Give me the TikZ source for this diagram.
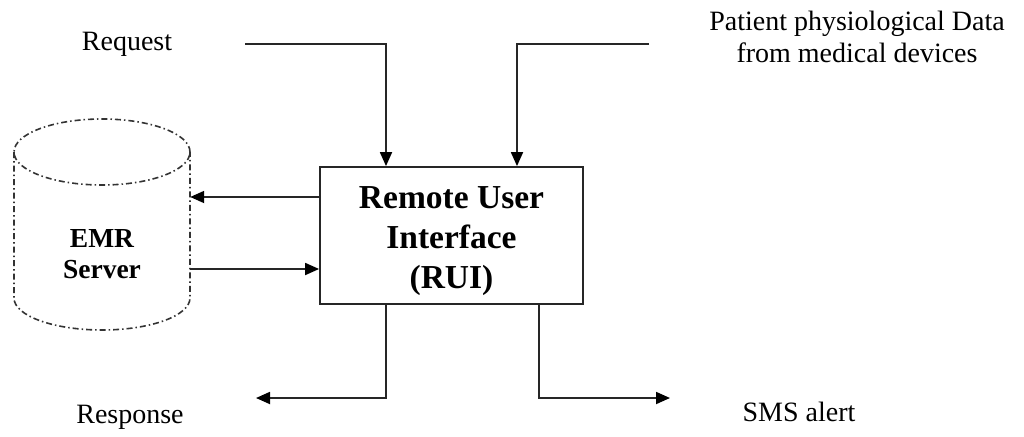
\documentclass[tikz,border=0pt]{standalone}
\usepackage{fontspec}
\setmainfont{Liberation Serif}
\usetikzlibrary{arrows.meta}
\begin{document}
\begin{tikzpicture}[x=1pt,y=-1pt,
  line/.style={line width=1.8pt,draw=black!85},
  arr/.style={line,-{Triangle[length=14pt,width=12pt,fill=black,color=black]}},
  label/.style={font=\fontsize{28}{32}\selectfont,inner sep=0pt,align=center},
  dbline/.style={line width=1.6pt,draw=black!80,dash pattern=on 6pt off 3pt on 1.5pt off 3pt}]
\useasboundingbox (0,0) rectangle (1024,436);

% central processing block
\node[line,rectangle,minimum width=263pt,minimum height=137pt,inner sep=0pt]
  (rui) at (451.5,235.5) {};
\node[inner sep=0pt,align=center,font=\bfseries\fontsize{33.5}{40}\selectfont]
  (ruitext) at (451.5,241) {Remote User\\Interface\\(RUI)};

% record store drawn as a dash-dot cylinder
\node[inner sep=0pt,minimum width=176pt,align=center,
      font=\bfseries\fontsize{27.5}{31}\selectfont] (emr) at (102,254) {EMR\\Server};
\draw[dbline] (102,152) ellipse [x radius=88pt,y radius=33pt];
\draw[dbline] (14,152) -- (14,298) arc [start angle=180,end angle=360,x radius=88pt,y radius=32pt] -- (190,152);

% outside labels
\node[label] (req) at (127,44) {Request};
\node[label] (pat) at (857,37) {Patient physiological Data\\from medical devices};
\node[label] (resp) at (130,417) {Response};
\node[label] (sms) at (799,412) {SMS alert};

% inputs from above
\coordinate (reqin) at (245,44);
\coordinate (patin) at (649,44);
\draw[arr] (reqin) -| ([xshift=-65.5pt]rui.north);
\draw[arr] (patin) -| ([xshift=65.5pt]rui.north);

% exchange with the record store
\coordinate (a1) at ([yshift=38.5pt]rui.west);
\coordinate (a2) at ([yshift=-33.5pt]rui.west);
\draw[arr] (a1) -- (a1 -| emr.east);
\draw[arr] (a2 -| emr.east) -- (a2);

% outputs below
\coordinate (respout) at (256,398);
\coordinate (smsout) at (670,398);
\draw[arr] ([xshift=-65.5pt]rui.south) |- (respout);
\draw[arr] ([xshift=87.5pt]rui.south) |- (smsout);
\end{tikzpicture}
\end{document}
